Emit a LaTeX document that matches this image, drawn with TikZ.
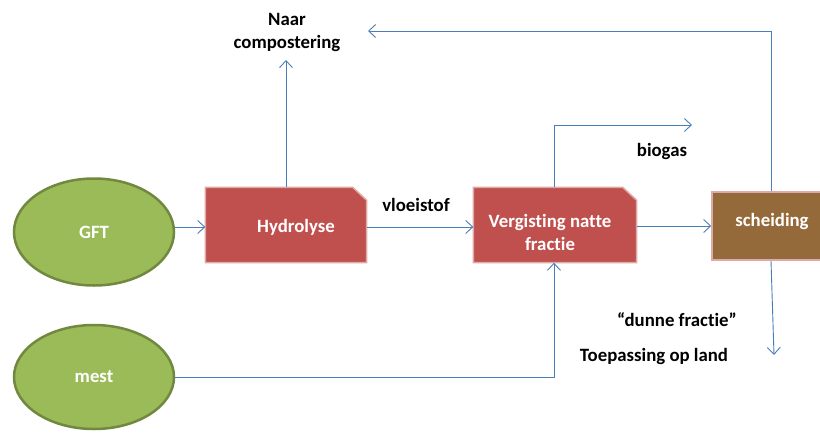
\documentclass[tikz,border=0pt]{standalone}
\usepackage{fontspec}
\setmainfont{Carlito}[RawFeature={-liga}]
\usetikzlibrary{shapes.geometric,arrows.meta}

\definecolor{flowblue}{RGB}{74,126,187}
\definecolor{leaf}{RGB}{155,187,89}
\definecolor{leafdark}{RGB}{113,137,63}
\definecolor{brick}{RGB}{192,80,77}
\definecolor{brickedge}{RGB}{222,170,168}
\definecolor{clay}{RGB}{148,106,58}

\tikzset{
  lbl/.style={font=\bfseries\fontsize{18.8}{23}\selectfont, text=black, inner sep=0pt, align=center},
  wlbl/.style={lbl, text=white},
  feed/.style={ellipse, fill=leaf, draw=leafdark, line width=2.5pt,
    inner sep=0pt, font=\bfseries\fontsize{18.8}{23}\selectfont, text=white},
  procframe/.style={rectangle, inner sep=0pt, minimum width=161pt, minimum height=75pt},
  procfill/.style={fill=brick, draw=brickedge, line width=1.5pt, line join=miter},
  sepbox/.style={rectangle, fill=clay, draw=brickedge, line width=1.5pt,
    inner sep=0pt, minimum width=120pt, minimum height=68pt},
  flow/.style={draw=flowblue, line width=0.9pt,
    -{Straight Barb[length=7pt,width=13pt,line width=0.9pt]}}
}

% box with its top right corner snipped off
\newcommand\snipbox[1]{%
  \path[procfill] (#1.north west) -- ([xshift=-14pt]#1.north east)
    -- ([yshift=-13pt]#1.north east) -- (#1.south east) -- (#1.south west) -- cycle;}

\begin{document}
\begin{tikzpicture}[x=1pt,y=-1pt]
\useasboundingbox (0,0) rectangle (820,432);
\clip (0,0) rectangle (820,432);
\fill[white] (0,0) rectangle (820,432);

% inputs
\node[feed, minimum width=160pt, minimum height=107pt] (gft) at (94,232) {GFT};
\node[feed, minimum width=160pt, minimum height=104pt] (mest) at (94,377) {mest};

% process steps
\node[procframe] (hyd) at (286,225) {};
\snipbox{hyd}
\node[wlbl] (hydT) at (296,227) {Hydrolyse};
\node[procframe, minimum width=163pt] (verg) at (555,225) {};
\snipbox{verg}
\node[wlbl] (vergT) at (550,232) {Vergisting natte\\fractie};
\node[sepbox] (sch) at (772,226) {};
\node[wlbl] (schT) at (772,221) {scheiding};

% outputs and labels
\node[lbl] (naar) at (287,32) {Naar\\compostering};
\node[lbl] (vlo) at (416,205) {vloeistof};
\node[lbl] (gas) at (662,151) {biogas};
\node[lbl] (dun) at (677,320) {“dunne fractie”};
\node[lbl] (land) at (654,356) {Toepassing op land};

\coordinate (compin) at (286,60);
\coordinate (gasout) at (692,125);
\coordinate (retour) at (368,31);
\coordinate (landin) at (774,355);

% connectors
\draw[flow] (gft.east |- 0,227) -- (hyd.west |- 0,227);
\draw[flow] (hyd.east |- 0,227) -- (verg.west |- 0,227);
\draw[flow] (verg.east |- 0,226) -- (sch.west |- 0,226);
\draw[flow] (hyd.north) -- (compin);
\draw[flow] (verg.north -| 554,0) |- (gasout);
\draw[flow] (sch.north -| 771,0) |- (retour);
\draw[flow] (sch.south -| 771,0) -- (landin);
\draw[flow] (mest.east) -| (verg.south -| 554,0);
\end{tikzpicture}
\end{document}
